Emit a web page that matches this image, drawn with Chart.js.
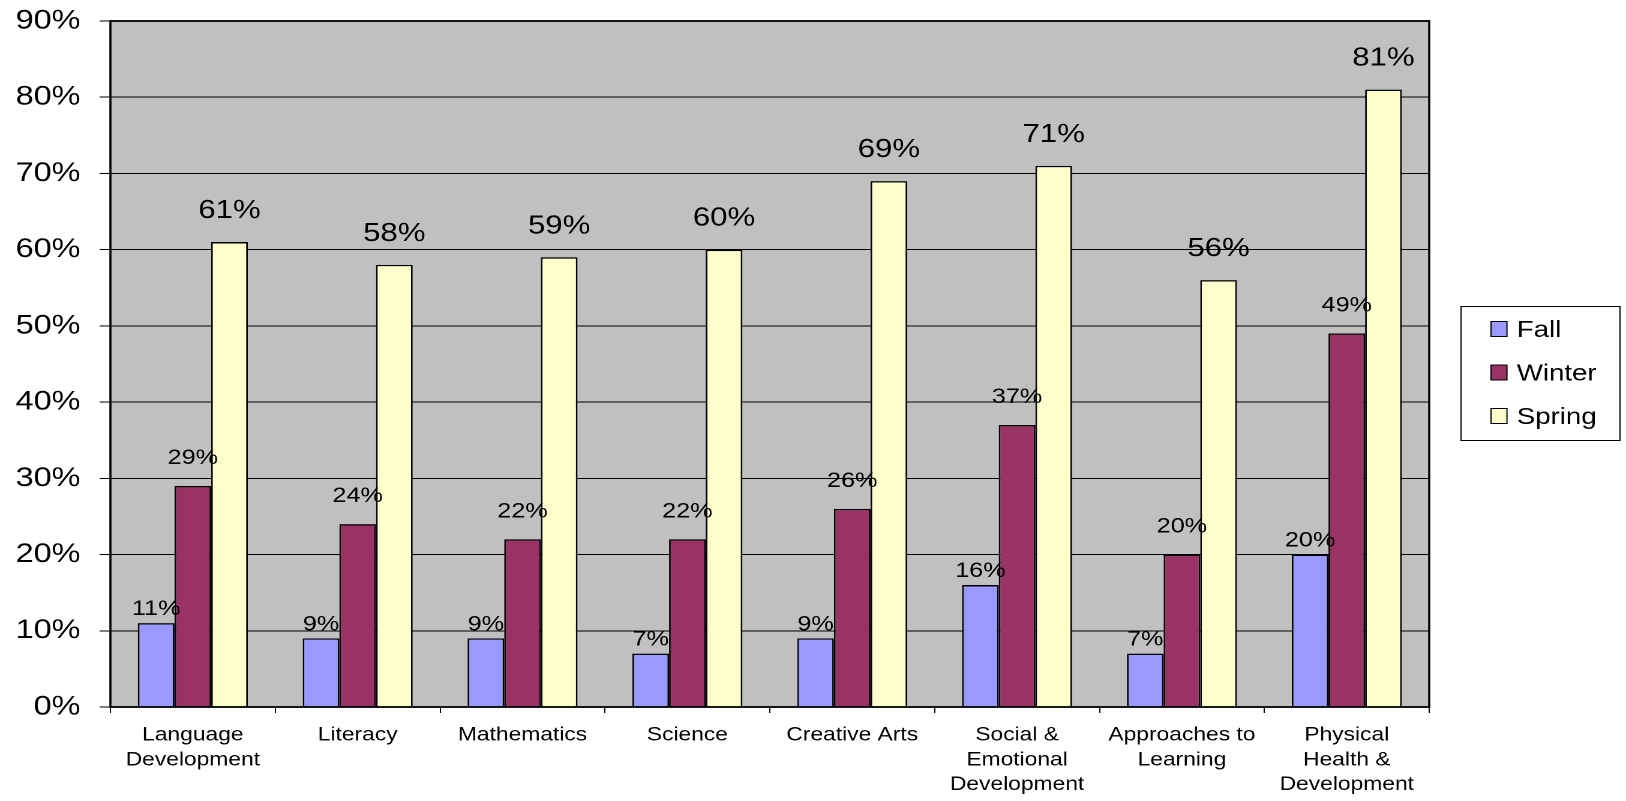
<!DOCTYPE html>
<html>
<head>
<meta charset="utf-8">
<title>Fall / Winter / Spring</title>
<script src="https://cdn.jsdelivr.net/npm/chart.js@4.4.1/dist/chart.umd.min.js"></script>
<style>
    html, body { margin: 0; padding: 0; background: #fff; overflow: hidden; }
    /* The original picture is stretched horizontally (~1.2x), so draw narrow and widen */
    #wrap {
        width: 1355px;
        height: 801px;
        position: relative;
        transform: scaleX(1.2);
        transform-origin: 0 0;
    }
</style>
</head>
<body>
<div id="wrap"><canvas id="chart"></canvas></div>
<script>
    // Categories (multi-line labels) and series values [%]
    var CATEGORIES = [
        ['Language', 'Development'],
        'Literacy',
        'Mathematics',
        'Science',
        'Creative Arts',
        ['Social &', 'Emotional', 'Development'],
        ['Approaches to', 'Learning'],
        ['Physical', 'Health &', 'Development'],
    ];
    var FALL = [11, 9, 9, 7, 9, 16, 7, 20];
    var WINTER = [29, 24, 22, 22, 26, 37, 20, 49];
    var SPRING = [61, 58, 59, 60, 69, 71, 56, 81];
    var Y_TICKS = [0, 10, 20, 30, 40, 50, 60, 70, 80, 90];

    var FONT = '"Liberation Sans", Arial, sans-serif';

    (function () {
        'use strict';

        // Gray plot background and black frame, like the old Excel look
        var plotFrame = {
            id: 'plotFrame',
            beforeDraw: function (chart) {
                var a = chart.chartArea;
                var ctx = chart.ctx;
                ctx.save();
                ctx.fillStyle = '#C0C0C0';
                ctx.fillRect(a.left, a.top, a.right - a.left, a.bottom - a.top);
                ctx.restore();
            },
            afterDatasetsDraw: function (chart) {
                var a = chart.chartArea;
                var ctx = chart.ctx;
                ctx.save();
                ctx.strokeStyle = '#000';
                ctx.lineWidth = 1.8;
                ctx.strokeRect(a.left, a.top, a.right - a.left, a.bottom - a.top);
                ctx.restore();
            },
        };

        // Value labels above each bar
        var valueLabels = {
            id: 'valueLabels',
            afterDatasetsDraw: function (chart) {
                var ctx = chart.ctx;
                var styles = [
                    { size: 21, gap: 8 },
                    { size: 21, gap: 22 },
                    { size: 26, gap: 24 },
                ];
                ctx.save();
                ctx.fillStyle = '#000';
                ctx.textAlign = 'center';
                ctx.textBaseline = 'alphabetic';
                chart.data.datasets.forEach(function (ds, i) {
                    var st = styles[i];
                    ctx.font = st.size + 'px ' + FONT;
                    chart.getDatasetMeta(i).data.forEach(function (bar, j) {
                        ctx.fillText(ds.data[j] + '%', bar.x, bar.y - st.gap);
                    });
                });
                ctx.restore();
            },
        };

        // Boxed legend on the right (coordinates in the narrow canvas space)
        var boxLegend = {
            id: 'boxLegend',
            afterDraw: function (chart) {
                var ctx = chart.ctx;
                var x = 1217.5, y = 306, w = 132.5, h = 134;
                ctx.save();
                ctx.fillStyle = '#fff';
                ctx.fillRect(x, y, w, h);
                ctx.strokeStyle = '#000';
                ctx.lineWidth = 1;
                ctx.strokeRect(x, y + 0.5, w, h);
                ctx.font = '23px ' + FONT;
                ctx.textBaseline = 'alphabetic';
                chart.data.datasets.forEach(function (ds, i) {
                    var base = 337 + i * 43.5;
                    ctx.fillStyle = ds.backgroundColor;
                    ctx.fillRect(1242.5, base - 16, 13.3, 16);
                    ctx.strokeStyle = '#000';
                    ctx.strokeRect(1242.5, base - 15.5, 13.3, 15);
                    ctx.fillStyle = '#000';
                    ctx.fillText(ds.label, 1264, base);
                });
                ctx.restore();
            },
        };

        var canvas = document.getElementById('chart');

        function makeSet(label, data, color) {
            return {
                label: label,
                data: data,
                backgroundColor: color,
                borderColor: '#000',
                borderWidth: 1.4,
                borderSkipped: 'bottom',
                categoryPercentage: 0.667,
                barPercentage: 1.0,
            };
        }

        new Chart(canvas, {
            type: 'bar',
            data: {
                labels: CATEGORIES,
                datasets: [
                    makeSet('Fall', FALL, '#9999FF'),
                    makeSet('Winter', WINTER, '#993366'),
                    makeSet('Spring', SPRING, '#FFFFCC'),
                ],
            },
            options: {
                responsive: true,
                maintainAspectRatio: false,
                animation: false,
                devicePixelRatio: 2,
                layout: { padding: { top: 21, right: 164, left: 0, bottom: 0 } },
                plugins: {
                    legend: { display: false },
                    tooltip: { enabled: false },
                },
                scales: {
                    x: {
                        grid: {
                            display: true,
                            drawOnChartArea: false,
                            drawTicks: true,
                            tickLength: 6,
                            color: '#000',
                            offset: true,
                        },
                        border: { display: false },
                        ticks: {
                            color: '#000',
                            font: { family: FONT, size: 19, lineHeight: 1.3 },
                            padding: 10,
                            maxRotation: 0,
                            autoSkip: false,
                        },
                        afterFit: function (scale) { scale.height = 94; },
                    },
                    y: {
                        min: 0,
                        max: 90,
                        afterBuildTicks: function (scale) {
                            scale.ticks = Y_TICKS.map(function (v) { return { value: v }; });
                        },
                        grid: {
                            color: '#000',
                            lineWidth: 1,
                            tickLength: 9,
                        },
                        border: { display: false },
                        ticks: {
                            color: '#000',
                            font: { family: FONT, size: 27 },
                            padding: 16,
                            callback: function (v) { return v + '%'; },
                        },
                        afterFit: function (scale) {
                            scale.width = 92;
                            // let layout padding alone decide the top edge
                            scale.paddingTop = 0;
                            scale.paddingBottom = 0;
                        },
                    },
                },
            },
            plugins: [plotFrame, valueLabels, boxLegend],
        });
    })();
</script>
</body>
</html>
